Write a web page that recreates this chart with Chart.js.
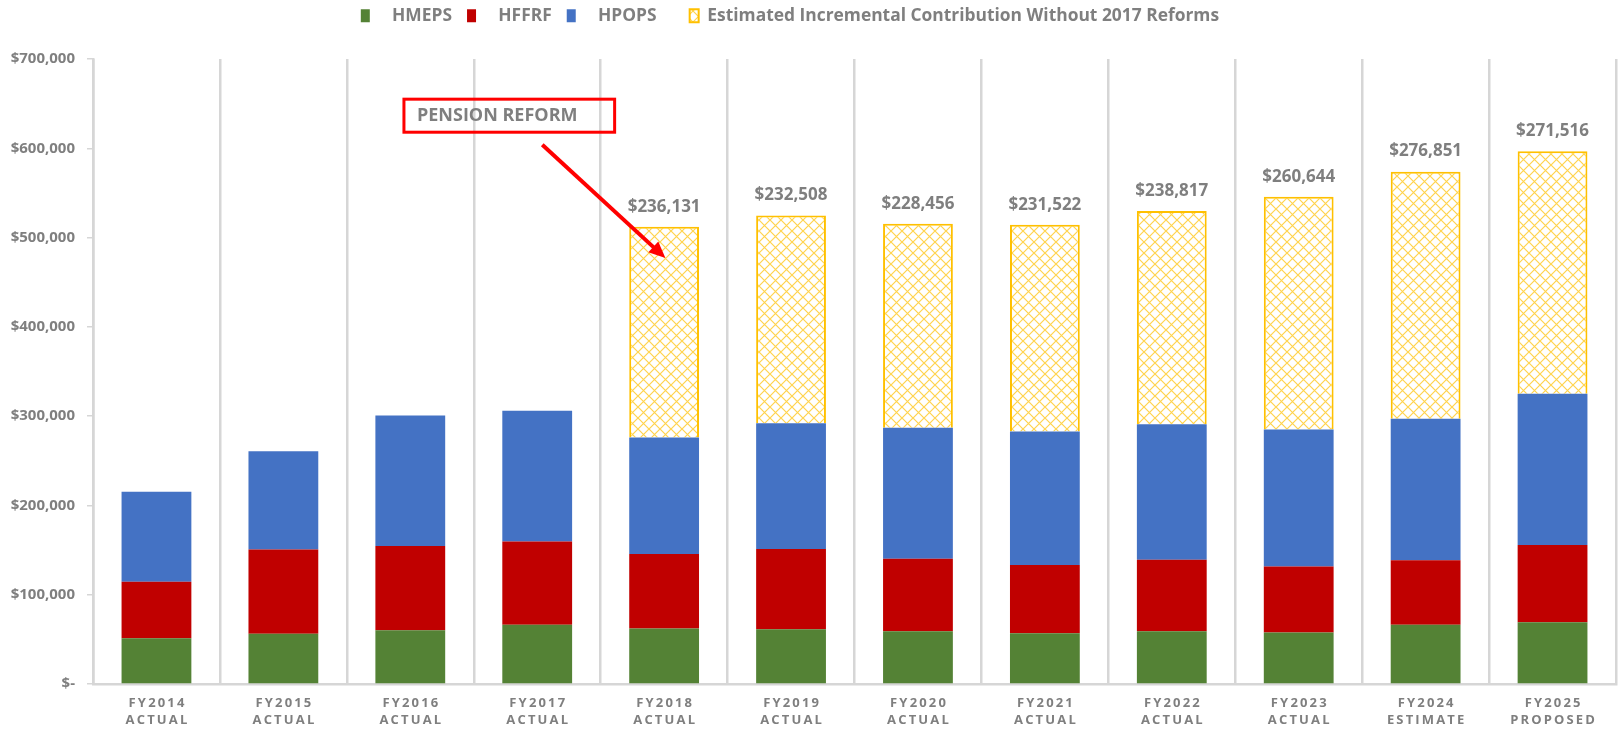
<!DOCTYPE html>
<html>
<head>
<meta charset="utf-8">
<script src="https://cdn.jsdelivr.net/npm/chart.js@4.4.1/dist/chart.umd.min.js"></script>
<style>
  html, body { margin: 0; padding: 0; background: #fff; }
  #wrap { width: 1619px; height: 729px; position: relative; }
</style>
</head>
<body>
<div id="wrap"><canvas id="chart"></canvas></div>
<script>
  const years = ["FY2014", "FY2015", "FY2016", "FY2017", "FY2018", "FY2019",
                 "FY2020", "FY2021", "FY2022", "FY2023", "FY2024", "FY2025"];
  const stages = ["ACTUAL", "ACTUAL", "ACTUAL", "ACTUAL", "ACTUAL", "ACTUAL",
                  "ACTUAL", "ACTUAL", "ACTUAL", "ACTUAL", "ESTIMATE", "PROPOSED"];

  const hmeps = [51300, 56200, 60300, 66300, 62200, 61400, 59200, 56900, 59200, 57700, 66300, 69300];
  const hffrf = [63300, 94400, 94400, 93300, 83500, 89900, 81200, 76400, 80100, 73800, 72300, 86500];
  const hpops = [100800, 110100, 146000, 146400, 130300, 140800, 146500, 149500, 151700, 153500, 158400, 169300];
  const incremental = [null, null, null, null, 236131, 232508, 228456, 231522, 238817, 260644, 276851, 271516];

  const seriesNames = ["HMEPS", "HFFRF", "HPOPS", "Estimated Incremental Contribution Without 2017 Reforms"];
  // extra room before / after each legend entry, in spaces
  const legendLead = [3, 3, 3, 0];
  const legendTrail = [2, 2, 6, 8];

  const GREY = "#7f7f7f";
  const FONT = "'Open Sans', 'Liberation Sans', sans-serif";

  // spread letters of the axis captions a little apart
  const spaced = s => s.split("").join("\u2009");

  function money(v) {
    return v === 0 ? "$-" : "$" + v.toLocaleString("en-US");
  }

  // yellow diamond lattice used for the "without reforms" bars
  function latticePattern() {
    const n = 11;
    const c = document.createElement("canvas");
    c.width = n; c.height = n;
    const g = c.getContext("2d");
    g.fillStyle = "#fff";
    g.fillRect(0, 0, n, n);
    g.strokeStyle = "rgba(255, 192, 0, 0.7)";
    g.lineWidth = 1.2;
    g.beginPath();
    g.moveTo(0, 0); g.lineTo(n, n);
    g.moveTo(n, 0); g.lineTo(0, n);
    g.stroke();
    return g.createPattern(c, "repeat");
  }

  const reformNote = {
    id: "reformNote",
    afterDraw(chart) {
      const { ctx, scales: { x, y } } = chart;
      ctx.save();
      // labelled box
      const bx0 = x.getPixelForValue(1.95), bx1 = x.getPixelForValue(3.61);
      const by0 = y.getPixelForValue(655000), by1 = y.getPixelForValue(618000);
      ctx.strokeStyle = "#ff0000";
      ctx.lineWidth = 3;
      ctx.strokeRect(bx0, by0, bx1 - bx0, by1 - by0);
      ctx.fillStyle = GREY;
      ctx.font = "bold 18px " + FONT;
      ctx.textBaseline = "middle";
      ctx.textAlign = "left";
      ctx.fillText("PENSION REFORM", bx0 + 13, (by0 + by1) / 2);

      // arrow into the first post-reform year
      const ax0 = x.getPixelForValue(3.04), ay0 = y.getPixelForValue(604000);
      const ax1 = x.getPixelForValue(4.01), ay1 = y.getPixelForValue(477000);
      const ang = Math.atan2(ay1 - ay0, ax1 - ax0);
      const head = 18;
      ctx.strokeStyle = "#ff0000";
      ctx.fillStyle = "#ff0000";
      ctx.lineWidth = 4;
      ctx.beginPath();
      ctx.moveTo(ax0, ay0);
      ctx.lineTo(ax1 - Math.cos(ang) * head * 0.8, ay1 - Math.sin(ang) * head * 0.8);
      ctx.stroke();
      ctx.beginPath();
      ctx.moveTo(ax1, ay1);
      ctx.lineTo(ax1 - head * Math.cos(ang - 0.42), ay1 - head * Math.sin(ang - 0.42));
      ctx.lineTo(ax1 - head * Math.cos(ang + 0.42), ay1 - head * Math.sin(ang + 0.42));
      ctx.closePath();
      ctx.fill();
      ctx.restore();
    }
  };

  const totalsOnTop = {
    id: "totalsOnTop",
    afterDatasetsDraw(chart) {
      const { ctx } = chart;
      const meta = chart.getDatasetMeta(3);
      ctx.save();
      ctx.fillStyle = GREY;
      ctx.font = "bold 17px " + FONT;
      ctx.textAlign = "center";
      ctx.textBaseline = "middle";
      meta.data.forEach((bar, i) => {
        if (incremental[i] == null) return;
        ctx.fillText(money(incremental[i]), bar.x, bar.y - 20);
      });
      ctx.restore();
    }
  };

  const pattern = latticePattern();

  new Chart(document.getElementById("chart"), {
    type: "bar",
    data: {
      labels: years.map((yr, i) => [spaced(yr), spaced(stages[i])]),
      datasets: [
        { label: seriesNames[0], data: hmeps, backgroundColor: "#548235" },
        { label: seriesNames[1], data: hffrf, backgroundColor: "#c00000" },
        { label: seriesNames[2], data: hpops, backgroundColor: "#4472c4" },
        { label: seriesNames[3], data: incremental, backgroundColor: pattern,
          borderColor: "#ffc000", borderWidth: 2 }
      ]
    },
    options: {
      responsive: true,
      maintainAspectRatio: false,
      animation: false,
      datasets: { bar: { barPercentage: 0.55, categoryPercentage: 1 } },
      layout: { padding: { top: 1, right: 3, bottom: 0, left: 0 } },
      plugins: {
        tooltip: { enabled: false },
        legend: {
          position: "top",
          align: "center",
          labels: {
            color: GREY,
            font: { family: FONT, size: 17.4, weight: "bold" },
            boxWidth: 9,
            boxHeight: 13,
            padding: 6,
            generateLabels(chart) {
              const items = Chart.defaults.plugins.legend.labels.generateLabels(chart);
              items.forEach((it, i) => {
                it.text = " ".repeat(legendLead[i]) + it.text + " ".repeat(legendTrail[i]);
              });
              return items;
            }
          }
        }
      },
      scales: {
        x: {
          stacked: true,
          grid: { display: true, offset: true, drawOnChartArea: true, drawTicks: false,
                  color: "#d6d6d6", lineWidth: 2.5 },
          border: { display: true, color: "#d6d6d6", width: 2.5 },
          ticks: { color: GREY, font: { family: FONT, size: 13, weight: "bold", lineHeight: 1.3 },
                   padding: 11, maxRotation: 0, autoSkip: false },
          afterFit(scale) { scale.height = 45; }
        },
        // empty strip between the legend and the plot
        gap: {
          type: "category",
          position: "top",
          grid: { display: false },
          border: { display: false },
          ticks: { display: false },
          afterFit(scale) { scale.height = 24.6; }
        },
        y: {
          stacked: true,
          min: 0,
          max: 700000,
          ticks: { stepSize: 100000, color: GREY, padding: 12,
                   font: { family: FONT, size: 15, weight: "bold" },
                   callback: v => money(v) },
          grid: { display: true, drawOnChartArea: false, drawTicks: true, tickLength: 6,
                  color: "#d6d6d6", lineWidth: 1.5 },
          border: { display: true, color: "#d6d6d6", width: 2.5 },
          afterFit(scale) { scale.width = 93; }
        }
      }
    },
    plugins: [totalsOnTop, reformNote]
  });
</script>
</body>
</html>
